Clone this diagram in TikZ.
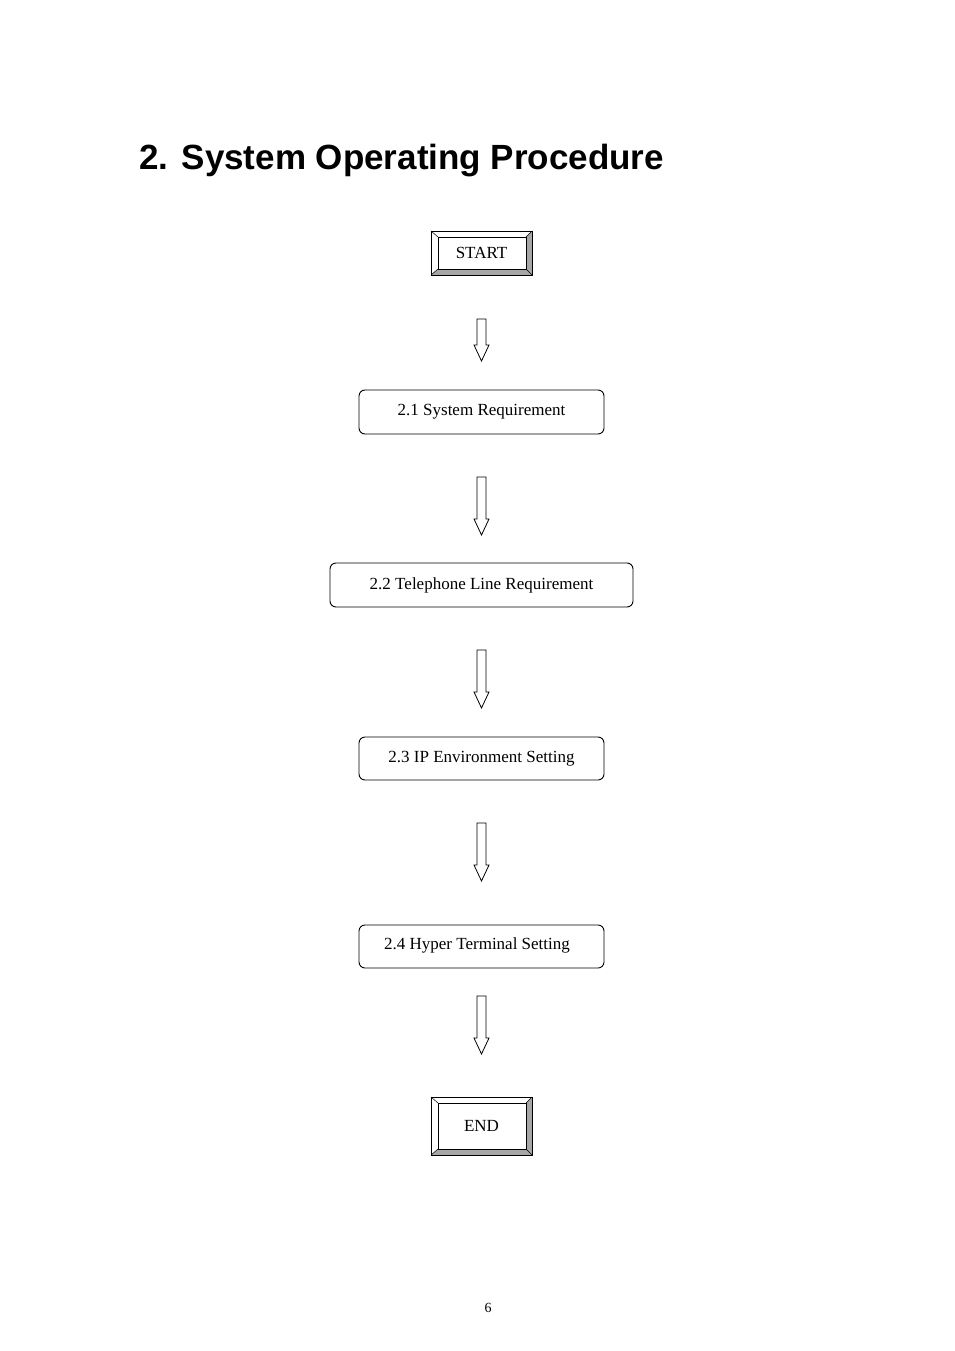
\documentclass[tikz,border=0pt]{standalone}
\usepackage{fontspec}
\setmainfont{Liberation Serif}
\newfontfamily\titlefont{Liberation Sans}
\begin{document}
\begin{tikzpicture}[x=1pt,y=-1pt,
  rbox/.style={draw,rounded corners=6pt,line width=0.9pt,font=\fontsize{17}{20}\selectfont},
  flow/.style={draw,line width=0.8pt,fill=white}]
\useasboundingbox (0,0) rectangle (954,1351);
\node[anchor=base west,font=\titlefont\bfseries\fontsize{35}{40}\selectfont] (title) at (136,170) {2. System Operating Procedure};
% bevel boxes
\newcommand{\bevelbox}[6]{% name x1 y1 x2 y2 text
  \fill[gray!70] (#2,#5)--(#4,#5)--(#4,#3)--({#4-6},{#3+6})--({#4-6},{#5-6})--({#2+7},{#5-6})--cycle;
  \draw[line width=0.9pt] (#2,#3) rectangle (#4,#5);
  \draw[line width=0.9pt] ({#2+7},{#3+6}) rectangle ({#4-6},{#5-6});
  \draw[line width=0.5pt] (#2,#3)--({#2+7},{#3+6}) (#4,#3)--({#4-6},{#3+6}) (#2,#5)--({#2+7},{#5-6}) (#4,#5)--({#4-6},{#5-6});
  \node[font=\fontsize{17}{20}\selectfont] (#1) at ({(#2+#4)/2},{(#3+#5)/2}) {#6};}
\bevelbox{start}{431}{231}{532}{275}{START}
\bevelbox{end}{431}{1097}{532}{1155}{END}
\node[rbox,minimum width=245pt,minimum height=44pt] (s1) at (481.5,412) {2.1 System Requirement};
\node[rbox,minimum width=303pt,minimum height=44pt] (s2) at (481.5,585) {2.2 Telephone Line Requirement};
\node[rbox,minimum width=245pt,minimum height=43pt] (s3) at (481.5,758.5) {2.3 IP Environment Setting};
\node[rbox,minimum width=245pt,minimum height=43pt] (s4) at (481.5,946.5) {};
\node[font=\fontsize{17}{20}\selectfont] (s4t) at (477,945) {2.4 Hyper Terminal Setting};
\newcommand{\blockarrow}[2]{%
  \draw[flow] (477,#1)--(486,#1)--(486,{#2-16})--(489,{#2-16})--(481.5,#2)--(474,{#2-16})--(477,{#2-16})--cycle;}
\blockarrow{319}{361}
\blockarrow{477}{535}
\blockarrow{650}{708}
\blockarrow{823}{881}
\blockarrow{996}{1054}
\node[font=\fontsize{14}{16}\selectfont] (pg) at (488,1308) {6};
\end{tikzpicture}
\end{document}
